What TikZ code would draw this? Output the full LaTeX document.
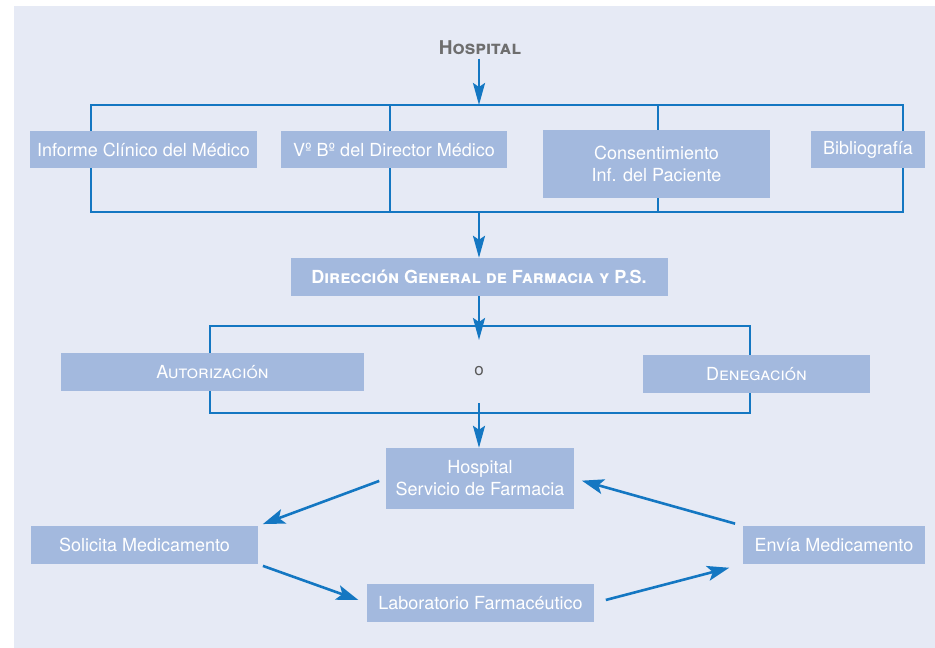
\documentclass[tikz,border=0pt]{standalone}
\usepackage{fontspec}
\setmainfont{TeX Gyre Heros}
\usetikzlibrary{arrows.meta}
\definecolor{panel color}{HTML}{E6EAF5}
\definecolor{box color}{HTML}{A3B9DE}
\definecolor{line color}{HTML}{1477C2}
\definecolor{title color}{HTML}{6E6E6E}
\tikzset{
    x={1pt},
    y={-1pt},
    panel background/.style={
        fill=panel color,
    },
    step box/.style 2 args={
        fill=box color,
        text=white,
        align=center,
        inner sep=0pt,
        minimum width={#1},
        minimum height={#2},
        font={\fontsize{18}{22}\selectfont},
    },
    title label/.style={
        text=title color,
        font={\fontsize{19}{22}\selectfont\bfseries},
    },
    bracket/.style={
        draw=line color,
        line width={1.6pt},
    },
    flow arrow/.style={
        draw=line color,
        line width={2.4pt},
        -{Stealth[length=22pt,width=12pt,inset=4pt]},
    },
    cycle arrow/.style={
        draw=line color,
        line width={2.6pt},
        -{Stealth[length=22pt,width=15pt,inset=5pt]},
    },
}

\begin{document}
\begin{tikzpicture}
% background
\useasboundingbox (0,0) rectangle (935,648);
\path[panel background] (14,6) rectangle (935,648);
% brackets
\coordinate (bar1 nw) at (91,105);
\coordinate (bar1 se) at (903,212);
\coordinate (bar2 nw) at (210,326);
\coordinate (bar2 se) at (750,413);
\path[bracket] (bar1 nw) rectangle (bar1 se);
\path[bracket] (390,105) -- (390,212);
\path[bracket] (658,105) -- (658,212);
\path[bracket] (bar2 nw) rectangle (bar2 se);
% boxes
\node[title label] (hospital) at (480,48) {\textsc{Hospital}};
\node[step box={227}{37}] (informe) at (143.5,149.5) {Informe Clínico del Médico};
\node[step box={226}{37}] (visto) at (394,149.5) {Vº Bº del Director Médico};
\node[step box={227}{68}] (consent) at (656.5,164) {Consentimiento\\Inf. del Paciente};
\node[step box={114}{37}] (biblio) at (868,149.5) {Bibliografía};
\node[step box={377}{38}] (direccion) at (479,277) {\textbf{\textsc{Dirección General de Farmacia y P.S.}}};
\node[step box={303}{38}] (autoriz) at (212.5,372) {\textsc{Autorización}};
\node[text=black!65, font={\fontsize{17}{20}\selectfont}] (choice) at (479,371) {o};
\node[step box={227}{38}] (deneg) at (756.5,374) {\textsc{Denegación}};
\node[step box={188}{61}] (farmacia) at (480,478.5) {Hospital\\Servicio de Farmacia};
\node[step box={227}{38}] (solicita) at (144.5,545) {Solicita Medicamento};
\node[step box={182}{38}] (envia) at (834,545) {Envía Medicamento};
\node[step box={227}{38}] (lab) at (480.5,603) {Laboratorio Farmacéutico};
% flow
\coordinate (split in) at (479,340);
\coordinate (join out) at (479,403);
\path[flow arrow] (hospital.south -| direccion) -- (direccion |- bar1 nw);
\path[flow arrow] (direccion |- bar1 se) -- (direccion.north);
\path[flow arrow] (direccion.south) -- (split in);
\path[flow arrow] (join out) -- (farmacia.north -| join out);
\path[cycle arrow, shorten <=7pt, shorten >=5pt] (farmacia.west) -- (solicita.north east);
\path[cycle arrow, shorten <=5pt, shorten >=9pt] (solicita.south east) -- (lab.west);
\path[cycle arrow, shorten <=12pt, shorten >=14pt] (lab.east) -- (envia.south west);
\path[cycle arrow, shorten <=8pt, shorten >=8pt] (envia.north west) -- (farmacia.east);
\end{tikzpicture}
\end{document}
